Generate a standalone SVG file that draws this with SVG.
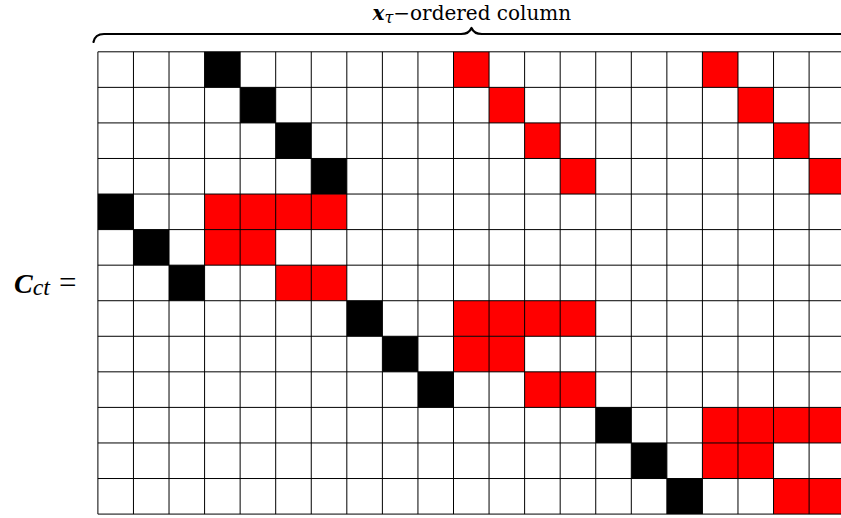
<svg xmlns="http://www.w3.org/2000/svg" width="841" height="518" viewBox="0 0 841 518">
<style>
.red{fill:#FF0000}
.blk{fill:#000000}
.grid line{stroke:#000;stroke-width:1}
.lbl{font-family:"DejaVu Serif","Liberation Serif",serif;fill:#000}
.lbl2{font-family:"Liberation Serif","DejaVu Serif",serif;fill:#000}
.brace{fill:none;stroke:#000;stroke-width:2.2;stroke-linecap:round;stroke-linejoin:round}
</style>
<rect width="841" height="518" fill="#fff"/>
<g id="label-top">
<text class="lbl" x="372.5" y="19.5" font-size="20"><tspan font-weight="bold" font-style="italic">x</tspan><tspan font-style="italic" font-size="16" dy="3">τ</tspan><tspan dy="-3">−ordered column</tspan></text>
</g>
<g id="brace">
<path class="brace" d="M93.5,42 Q95,34 104,34 H461 Q469,34 471.5,28 Q474,34 482,34 H845 Q848,34 850,42"/>
</g>
<g id="label-left">
<text class="lbl2" x="14" y="293" font-size="28"><tspan font-weight="bold" font-style="italic">C</tspan><tspan font-style="italic" font-size="24" dy="2">ct</tspan></text>
<text class="lbl2" x="59" y="293" font-size="31">=</text>
</g>
<g id="cells">
<rect class="blk" x="204.58" y="51.8" width="35.56" height="35.56"/>
<rect class="red" x="453.5" y="51.8" width="35.56" height="35.56"/>
<rect class="red" x="702.42" y="51.8" width="35.56" height="35.56"/>
<rect class="blk" x="240.14" y="87.36" width="35.56" height="35.56"/>
<rect class="red" x="489.06" y="87.36" width="35.56" height="35.56"/>
<rect class="red" x="737.98" y="87.36" width="35.56" height="35.56"/>
<rect class="blk" x="275.7" y="122.92" width="35.56" height="35.56"/>
<rect class="red" x="524.62" y="122.92" width="35.56" height="35.56"/>
<rect class="red" x="773.54" y="122.92" width="35.56" height="35.56"/>
<rect class="blk" x="311.26" y="158.48" width="35.56" height="35.56"/>
<rect class="red" x="560.18" y="158.48" width="35.56" height="35.56"/>
<rect class="red" x="809.1" y="158.48" width="35.56" height="35.56"/>
<rect class="blk" x="97.9" y="194.04" width="35.56" height="35.56"/>
<rect class="red" x="204.58" y="194.04" width="142.24" height="35.56"/>
<rect class="blk" x="133.46" y="229.6" width="35.56" height="35.56"/>
<rect class="red" x="204.58" y="229.6" width="71.12" height="35.56"/>
<rect class="blk" x="169.02" y="265.16" width="35.56" height="35.56"/>
<rect class="red" x="275.7" y="265.16" width="71.12" height="35.56"/>
<rect class="blk" x="346.82" y="300.72" width="35.56" height="35.56"/>
<rect class="red" x="453.5" y="300.72" width="142.24" height="35.56"/>
<rect class="blk" x="382.38" y="336.28" width="35.56" height="35.56"/>
<rect class="red" x="453.5" y="336.28" width="71.12" height="35.56"/>
<rect class="blk" x="417.94" y="371.84" width="35.56" height="35.56"/>
<rect class="red" x="524.62" y="371.84" width="71.12" height="35.56"/>
<rect class="blk" x="595.74" y="407.4" width="35.56" height="35.56"/>
<rect class="red" x="702.42" y="407.4" width="142.24" height="35.56"/>
<rect class="blk" x="631.3" y="442.96" width="35.56" height="35.56"/>
<rect class="red" x="702.42" y="442.96" width="71.12" height="35.56"/>
<rect class="blk" x="666.86" y="478.52" width="35.56" height="35.56"/>
<rect class="red" x="773.54" y="478.52" width="71.12" height="35.56"/>
</g>
<g id="connectors" class="grid">
<line x1="97.9" y1="51.8" x2="97.9" y2="514.08"/>
<line x1="133.46" y1="51.8" x2="133.46" y2="514.08"/>
<line x1="169.02" y1="51.8" x2="169.02" y2="514.08"/>
<line x1="204.58" y1="51.8" x2="204.58" y2="514.08"/>
<line x1="240.14" y1="51.8" x2="240.14" y2="514.08"/>
<line x1="275.7" y1="51.8" x2="275.7" y2="514.08"/>
<line x1="311.26" y1="51.8" x2="311.26" y2="514.08"/>
<line x1="346.82" y1="51.8" x2="346.82" y2="514.08"/>
<line x1="382.38" y1="51.8" x2="382.38" y2="514.08"/>
<line x1="417.94" y1="51.8" x2="417.94" y2="514.08"/>
<line x1="453.5" y1="51.8" x2="453.5" y2="514.08"/>
<line x1="489.06" y1="51.8" x2="489.06" y2="514.08"/>
<line x1="524.62" y1="51.8" x2="524.62" y2="514.08"/>
<line x1="560.18" y1="51.8" x2="560.18" y2="514.08"/>
<line x1="595.74" y1="51.8" x2="595.74" y2="514.08"/>
<line x1="631.3" y1="51.8" x2="631.3" y2="514.08"/>
<line x1="666.86" y1="51.8" x2="666.86" y2="514.08"/>
<line x1="702.42" y1="51.8" x2="702.42" y2="514.08"/>
<line x1="737.98" y1="51.8" x2="737.98" y2="514.08"/>
<line x1="773.54" y1="51.8" x2="773.54" y2="514.08"/>
<line x1="809.1" y1="51.8" x2="809.1" y2="514.08"/>
<line x1="844.66" y1="51.8" x2="844.66" y2="514.08"/>
<line x1="97.9" y1="51.8" x2="844.66" y2="51.8"/>
<line x1="97.9" y1="87.36" x2="844.66" y2="87.36"/>
<line x1="97.9" y1="122.92" x2="844.66" y2="122.92"/>
<line x1="97.9" y1="158.48" x2="844.66" y2="158.48"/>
<line x1="97.9" y1="194.04" x2="844.66" y2="194.04"/>
<line x1="97.9" y1="229.6" x2="844.66" y2="229.6"/>
<line x1="97.9" y1="265.16" x2="844.66" y2="265.16"/>
<line x1="97.9" y1="300.72" x2="844.66" y2="300.72"/>
<line x1="97.9" y1="336.28" x2="844.66" y2="336.28"/>
<line x1="97.9" y1="371.84" x2="844.66" y2="371.84"/>
<line x1="97.9" y1="407.4" x2="844.66" y2="407.4"/>
<line x1="97.9" y1="442.96" x2="844.66" y2="442.96"/>
<line x1="97.9" y1="478.52" x2="844.66" y2="478.52"/>
<line x1="97.9" y1="514.08" x2="844.66" y2="514.08"/>
</g>
</svg>
